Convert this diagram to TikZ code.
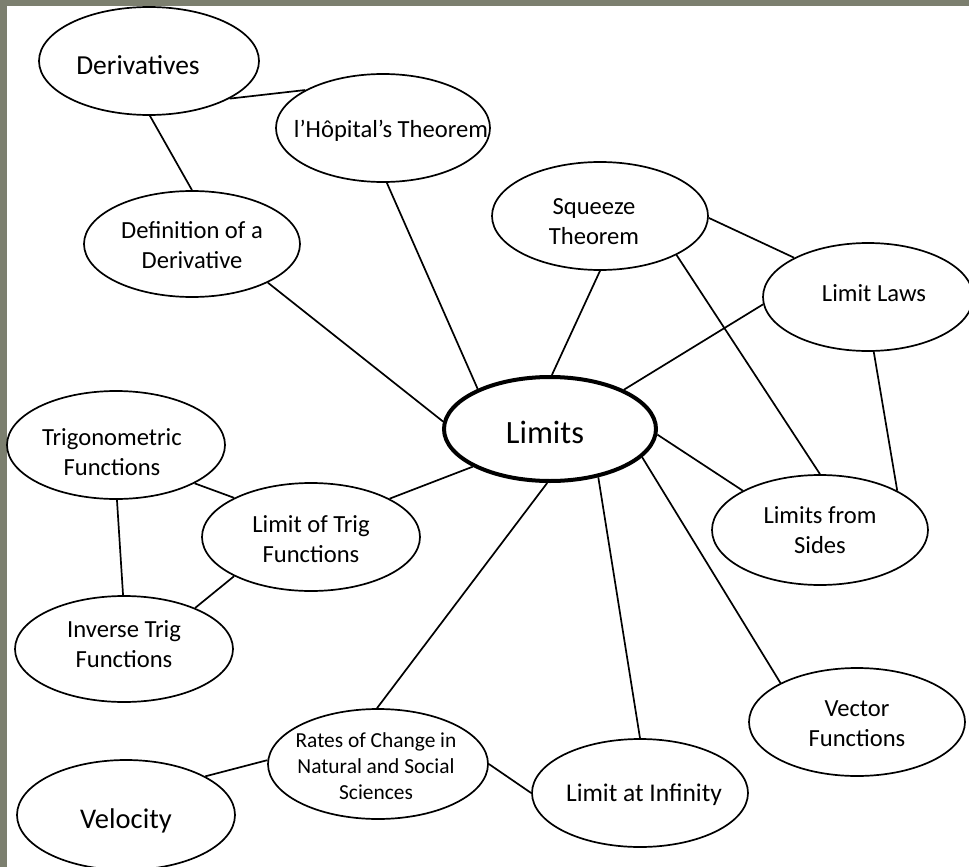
\documentclass[tikz,border=0pt]{standalone}
\usepackage{fontspec}
\setmainfont{Carlito}
\usetikzlibrary{shapes.geometric}
\definecolor{framegray}{RGB}{124,127,111}
\begin{document}
\begin{tikzpicture}[x=1pt,y=-1pt,
  ell/.style={ellipse, draw=black, line width=1.7pt, fill=white, inner sep=0pt},
  mainell/.style={ellipse, draw=black, line width=4pt, fill=white, inner sep=0pt},
  lbl/.style={align=center, inner sep=0pt, font=\fontsize{24.6}{30}\selectfont},
  link/.style={draw=black, line width=1.7pt}]
\fill[white] (0,0) rectangle (969,867);
\clip (0,0) rectangle (969,867);
\fill[framegray] (0,0) rectangle (7,867);
\fill[framegray] (0,0) rectangle (969,6);

% ellipses
\node[ell, minimum width=220pt, minimum height=108pt] (der) at (149,61) {};
\node[ell, minimum width=214pt, minimum height=108pt] (lh) at (383,128) {};
\node[ell, minimum width=216pt, minimum height=106pt] (def) at (192,244) {};
\node[ell, minimum width=216pt, minimum height=108pt] (sq) at (600,216) {};
\node[ell, minimum width=210pt, minimum height=108pt] (laws) at (868,297) {};
\node[mainell, minimum width=212pt, minimum height=104pt] (lim) at (550,429) {};
\node[ell, minimum width=218pt, minimum height=108pt] (trig) at (116,445) {};
\node[ell, minimum width=218pt, minimum height=108pt] (ltrig) at (311,537) {};
\node[ell, minimum width=216pt, minimum height=110pt] (sides) at (820,530) {};
\node[ell, minimum width=218pt, minimum height=106pt] (inv) at (124,649) {};
\node[ell, minimum width=216pt, minimum height=108pt] (vec) at (857,722) {};
\node[ell, minimum width=220pt, minimum height=110pt] (rates) at (378,764) {};
\node[ell, minimum width=216pt, minimum height=108pt] (inf) at (640,793) {};
\node[ell, minimum width=218pt, minimum height=110pt] (vel) at (126,815) {};

% labels
\node[lbl, font=\fontsize{27.5}{33}\selectfont] (der-t) at ([xshift=-11pt,yshift=-4pt]der.center) {Derivatives};
\node[lbl] (lh-t) at ([xshift=8pt,yshift=-3pt]lh.center) {l’Hôpital’s Theorem};
\node[lbl] (def-t) at ([yshift=-1pt]def.center) {Definition of a\\Derivative};
\node[lbl] (sq-t) at ([xshift=-6pt,yshift=-6pt]sq.center) {Squeeze\\Theorem};
\node[lbl] (laws-t) at ([xshift=6pt,yshift=4pt]laws.center) {Limit Laws};
\node[lbl, font=\fontsize{32.5}{38}\selectfont] (lim-t) at ([xshift=-5pt,yshift=-3pt]lim.center) {Limits};
\node[lbl] (trig-t) at ([xshift=-4pt,yshift=-7pt]trig.center) {Trigonometric\\Functions};
\node[lbl] (ltrig-t) at ([yshift=-2pt]ltrig.center) {Limit of Trig\\Functions};
\node[lbl] (sides-t) at (sides) {Limits from\\Sides};
\node[lbl] (inv-t) at ([yshift=5pt]inv.center) {Inverse Trig\\Functions};
\node[lbl] (vec-t) at ([yshift=-2pt]vec.center) {Vector\\Functions};
\node[lbl, font=\fontsize{21.4}{26}\selectfont] (rates-t) at ([xshift=-2pt,yshift=-2pt]rates.center) {Rates of Change in\\Natural and Social\\Sciences};
\node[lbl, font=\fontsize{25.5}{30}\selectfont] (inf-t) at ([xshift=4pt,yshift=-2pt]inf.center) {Limit at Infinity};
\node[lbl, font=\fontsize{28.5}{34}\selectfont] (vel-t) at ([yshift=-6pt]vel.center) {Velocity};

% connectors
\draw[link] (der.-25) -- (lh.154);
\draw[link] (der.-89) -- (def.90);
\draw[link] (def.-27) -- (lim.176);
\draw[link] (lh.-86) -- (lim.151);
\draw[link] (sq.-90) -- (lim.88);
\draw[link] (sq.-1) -- (laws.152);
\draw[link] (laws.184) -- (lim.28);
\draw[link] (sq.-27) -- (sides.90);
\draw[link] (laws.-84) -- (sides.27);
\draw[link] (lim.-3) -- (sides.153);
\draw[link] (lim.-17) -- (vec.153);
\draw[link] (lim.-45) -- (inf.90);
\draw[link] (lim.-93) -- (rates.91);
\draw[link] (lim.206) -- (ltrig.26);
\draw[link] (trig.-26) -- (ltrig.153);
\draw[link] (trig.-89) -- (inv.91);
\draw[link] (ltrig.207) -- (inv.30);
\draw[link] (vel.26) -- (rates.178);
\draw[link] (rates.0) -- (inf.180);
\end{tikzpicture}
\end{document}
